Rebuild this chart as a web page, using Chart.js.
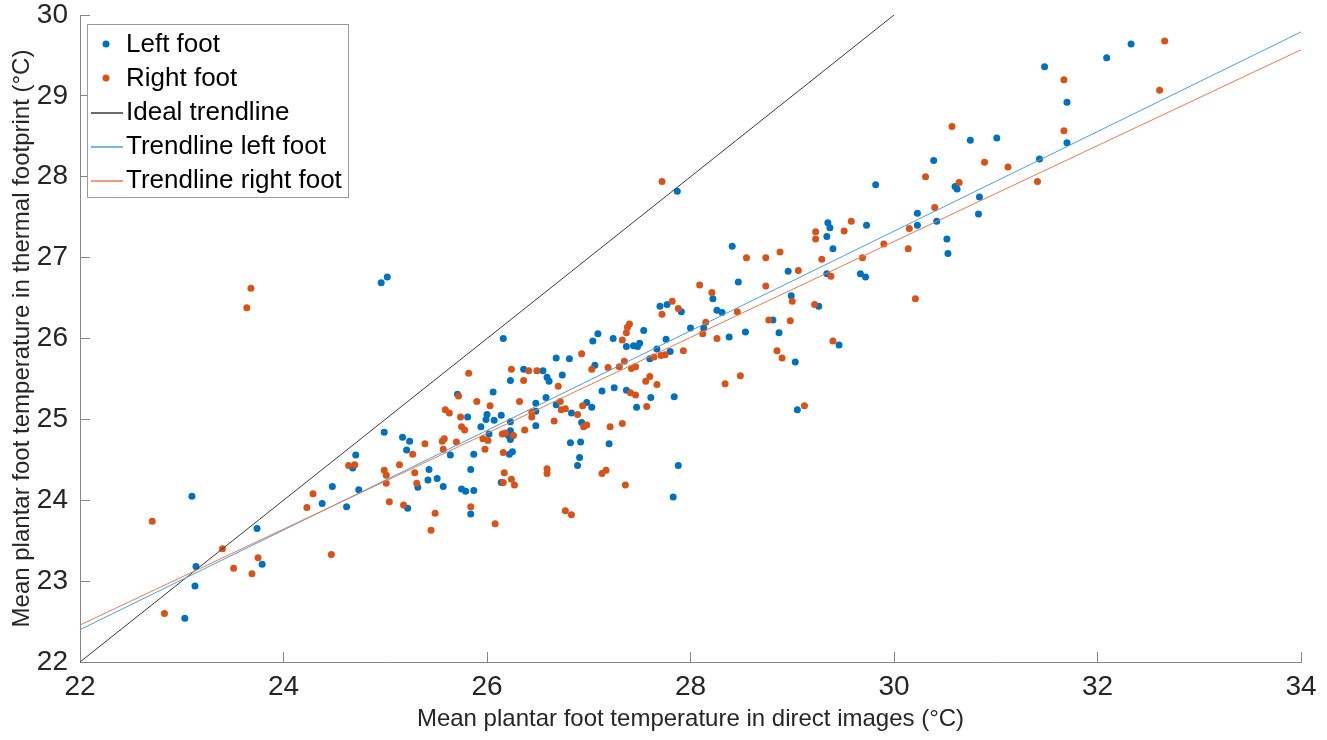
<!DOCTYPE html>
<html>
<head>
<meta charset="utf-8">
<title>Plantar foot temperature</title>
<script src="https://cdn.jsdelivr.net/npm/chart.js@4/dist/chart.umd.min.js"></script>
<style>
    html, body { margin: 0; padding: 0; background: #fff; }
    #wrap { width: 1327px; height: 740px; position: relative; }
</style>
</head>
<body>
<div id="wrap"><canvas id="tempChart"></canvas></div>
<script>
// mean temperature per foot: direct image (x) vs thermal footprint (y), °C
const leftX = [
    23.03, 23.10, 23.13, 23.14, 23.74, 23.79, 24.38, 24.48, 24.62, 24.68,
    24.71, 24.74, 24.96, 25.02, 24.99, 25.17, 25.24, 25.21, 25.22, 25.32,
    25.42, 25.43, 25.51, 25.57, 25.64, 25.71, 25.75, 25.79, 25.81, 25.84,
    25.84, 25.87, 25.87, 25.94, 25.99, 26.00, 26.02, 26.06, 26.07, 26.14,
    26.14, 26.16, 26.23, 26.23, 26.21, 26.23, 26.25, 26.22, 26.23, 26.36,
    26.55, 26.59, 26.61, 26.74, 26.68, 26.81, 26.58, 26.48, 26.48, 26.48,
    26.68, 26.83, 26.93, 26.98, 27.03, 26.82, 26.92, 26.91, 26.89, 27.04,
    27.09, 27.24, 27.37, 27.44, 27.48, 27.50, 27.54, 27.13, 27.25, 27.37,
    27.20, 27.06, 27.47, 27.61, 27.60, 27.67, 27.76, 27.80, 27.70, 27.77,
    27.84, 27.88, 27.83, 27.87, 27.91, 28.00, 28.13, 28.22, 28.26, 28.31,
    28.41, 28.47, 28.38, 28.54, 28.81, 28.87, 28.96, 28.99, 29.03, 29.05,
    29.26, 29.35, 29.37, 29.34, 29.40, 29.34, 29.46, 29.73, 29.67, 29.72,
    29.82, 30.23, 30.23, 30.39, 30.42, 30.52, 30.53, 30.60, 30.62, 30.84,
    30.83, 31.48, 31.70, 31.70, 31.43, 32.09, 32.33, 30.75, 31.01
];
const leftY = [
    22.54, 24.05, 22.94, 23.18, 23.65, 23.21, 23.96, 24.17, 23.92, 24.40,
    24.56, 24.13, 26.69, 26.76, 24.84, 24.78, 24.73, 24.62, 23.90, 24.16,
    24.25, 24.38, 24.27, 24.17, 24.56, 25.31, 24.14, 24.11, 25.03, 24.38,
    23.83, 24.57, 24.12, 24.91, 25.00, 25.06, 24.82, 25.34, 24.99, 25.05,
    24.22, 26.00, 24.97, 24.86, 24.80, 24.75, 24.60, 24.57, 25.48, 25.62,
    25.60, 25.52, 25.47, 25.55, 25.76, 25.75, 25.27, 25.20, 25.10, 24.92,
    25.18, 25.08, 24.96, 25.21, 25.15, 24.71, 24.72, 24.53, 24.43, 25.97,
    26.06, 26.00, 25.90, 25.91, 25.90, 25.94, 26.10, 25.35, 25.39, 25.36,
    24.70, 25.67, 25.15, 25.27, 25.75, 25.87, 25.99, 25.84, 26.40, 26.42,
    25.28, 24.43, 24.04, 27.82, 26.33, 26.13, 26.13, 26.49, 26.35, 26.32,
    27.14, 26.70, 26.02, 26.08, 26.23, 26.07, 26.83, 26.53, 25.71, 25.12,
    26.40, 27.43, 27.37, 27.26, 27.11, 26.80, 25.92, 27.40, 26.80, 26.76,
    27.90, 27.55, 27.40, 28.20, 27.45, 27.23, 27.05, 27.88, 27.85, 27.75,
    27.54, 29.36, 28.92, 28.42, 28.22, 29.47, 29.64, 28.45, 28.48
];
const rightX = [
    22.71, 22.83, 23.40, 23.51, 23.75, 23.69, 23.64, 23.68, 24.23, 24.29,
    24.47, 24.64, 24.70, 24.99, 25.01, 25.01, 25.04, 25.14, 25.18, 25.27,
    25.29, 25.31, 25.39, 25.49, 25.45, 25.56, 25.58, 25.57, 25.59, 25.63,
    25.70, 25.72, 25.74, 25.75, 25.78, 25.82, 25.84, 25.90, 25.96, 25.98,
    26.01, 26.03, 26.08, 26.15, 26.18, 26.16, 26.17, 26.16, 26.24, 26.27,
    26.26, 26.24, 26.36, 26.41, 26.49, 26.32, 26.37, 26.44, 26.44, 26.70,
    26.72, 26.73, 26.77, 26.66, 26.59, 26.59, 26.77, 26.83, 26.89, 26.94,
    26.95, 26.98, 26.93, 27.03, 27.19, 27.21, 27.33, 27.13, 27.17, 27.36,
    27.30, 27.33, 27.35, 27.37, 27.38, 27.40, 27.42, 27.46, 27.41, 27.46,
    27.56, 27.60, 27.57, 27.67, 27.64, 27.71, 27.75, 27.72, 27.82, 27.88,
    27.72, 27.93, 28.09, 28.21, 28.15, 28.12, 28.26, 28.46, 28.34, 28.49,
    28.55, 28.74, 28.88, 28.74, 28.77, 28.98, 28.85, 28.90, 29.00, 29.06,
    29.22, 29.12, 29.23, 29.23, 29.29, 29.38, 29.40, 29.51, 29.58, 29.69,
    29.90, 30.14, 30.15, 30.21, 30.31, 30.40, 30.64, 30.57, 31.67, 31.67,
    31.41, 30.89, 31.12, 32.66, 32.61
];
const rightY = [
    23.74, 22.60, 23.40, 23.16, 23.29, 23.09, 26.38, 26.62, 23.91, 24.08,
    23.33, 24.43, 24.44, 24.37, 24.31, 24.21, 23.98, 24.44, 23.94, 24.57,
    24.34, 24.21, 24.70, 23.84, 23.63, 24.73, 24.76, 24.63, 25.12, 25.08,
    24.72, 25.29, 25.03, 24.91, 24.87, 25.57, 23.92, 25.22, 24.76, 24.63,
    24.74, 25.17, 23.71, 24.82, 24.83, 24.59, 24.34, 24.22, 24.26, 24.19,
    24.80, 25.62, 25.48, 25.60, 25.60, 25.22, 24.87, 25.09, 25.03, 25.41,
    25.22, 25.12, 25.13, 24.98, 24.39, 24.33, 23.87, 23.82, 25.06, 25.17,
    24.91, 24.93, 25.81, 25.62, 25.64, 24.91, 24.95, 24.33, 24.37, 24.19,
    25.65, 25.98, 25.72, 26.07, 26.14, 26.18, 25.63, 25.65, 25.33, 25.30,
    25.47, 25.53, 25.16, 25.43, 25.77, 25.79, 25.80, 26.30, 26.46, 26.37,
    27.94, 25.85, 26.66, 26.57, 26.20, 26.06, 26.00, 26.33, 25.44, 25.54,
    27.00, 27.00, 27.07, 26.65, 26.23, 26.22, 25.85, 25.76, 26.46, 26.84,
    26.42, 25.17, 27.32, 27.23, 26.98, 26.77, 25.97, 27.33, 27.45, 27.00,
    27.17, 27.11, 27.36, 26.49, 28.00, 27.62, 27.93, 28.62, 29.20, 28.57,
    27.94, 28.18, 28.12, 29.68, 29.07
];

// reference line y = x and the two fitted lines, given by their end points
const idealX = [22, 30];
const idealY = [22, 30];
const trendX = [22, 34];
const trendLeftY = [22.40, 29.79];
const trendRightY = [22.457, 29.57];

const BLUE = '#0072bd';
const ORANGE = '#d95319';
const TEXT = '#262626';
const AXIS = '#868686';

const toPoints = (xs, ys) => xs.map((x, i) => ({ x: x, y: ys[i] }));

// MATLAB-like legend box in the top left corner of the axes
const boxLegend = {
    id: 'boxLegend',
    afterDraw(chart) {
        const ctx = chart.ctx;
        const x0 = 87, y0 = 24, w = 261, h = 173;
        ctx.save();
        ctx.fillStyle = '#fff';
        ctx.fillRect(x0, y0, w, h);
        ctx.strokeStyle = '#9a9a9a';
        ctx.lineWidth = 1;
        ctx.strokeRect(x0 + 0.5, y0 + 0.5, w, h);
        ctx.font = '26px "Liberation Sans", Arial, sans-serif';
        ctx.textBaseline = 'middle';
        chart.data.datasets.forEach((ds, i) => {
            const cy = 45 + i * 34;
            if (ds.showLine) {
                ctx.strokeStyle = ds.borderColor;
                ctx.lineWidth = 1.5;
                ctx.beginPath();
                ctx.moveTo(91, cy);
                ctx.lineTo(123, cy);
                ctx.stroke();
            } else {
                ctx.fillStyle = ds.backgroundColor;
                ctx.beginPath();
                ctx.arc(106, cy - 1, 3.5, 0, Math.PI * 2);
                ctx.fill();
            }
            ctx.fillStyle = '#000';
            ctx.fillText(ds.label, 126, cy);
        });
        ctx.restore();
    }
};

const ctx = document.getElementById('tempChart');

new Chart(ctx, {
    type: 'scatter',
    data: {
        datasets: [{
            label: 'Left foot',
            data: toPoints(leftX, leftY),
            backgroundColor: BLUE,
            borderWidth: 0,
            pointRadius: 3.5,
            order: 5
        }, {
            label: 'Right foot',
            data: toPoints(rightX, rightY),
            backgroundColor: ORANGE,
            borderWidth: 0,
            pointRadius: 3.5,
            order: 4
        }, {
            label: 'Ideal trendline',
            data: toPoints(idealX, idealY),
            showLine: true,
            borderColor: '#3a3a3a',
            borderWidth: 1,
            pointRadius: 0,
            order: 3
        }, {
            label: 'Trendline left foot',
            data: toPoints(trendX, trendLeftY),
            showLine: true,
            borderColor: '#4da0dc',
            borderWidth: 1,
            pointRadius: 0,
            order: 2
        }, {
            label: 'Trendline right foot',
            data: toPoints(trendX, trendRightY),
            showLine: true,
            borderColor: '#ea7a50',
            borderWidth: 1,
            pointRadius: 0,
            order: 1
        }]
    },
    options: {
        responsive: true,
        maintainAspectRatio: false,
        animation: false,
        layout: {
            padding: { top: 15, right: 26, left: 0, bottom: 0 }
        },
        plugins: {
            legend: { display: false },
            tooltip: { enabled: false }
        },
        scales: {
            x: {
                type: 'linear',
                min: 22,
                max: 34,
                afterFit: (s) => {
                    s.height = 78;
                    s.paddingLeft = 0;
                    s.paddingRight = 0;
                },
                ticks: {
                    stepSize: 2,
                    color: TEXT,
                    padding: 18,
                    maxRotation: 0,
                    font: { family: '"Liberation Sans", Arial, sans-serif', size: 28 }
                },
                grid: {
                    drawOnChartArea: false,
                    drawTicks: true,
                    tickLength: -10,
                    color: AXIS
                },
                border: { display: true, color: AXIS, width: 1 },
                title: {
                    display: true,
                    text: 'Mean plantar foot temperature in direct images (°C)',
                    color: TEXT,
                    padding: { top: 0, bottom: 6 },
                    font: { family: '"Liberation Sans", Arial, sans-serif', size: 24 }
                }
            },
            y: {
                type: 'linear',
                min: 22,
                max: 30,
                afterFit: (s) => {
                    s.width = 80;
                    s.paddingTop = 0;
                    s.paddingBottom = 0;
                },
                ticks: {
                    stepSize: 1,
                    color: TEXT,
                    padding: 22,
                    font: { family: '"Liberation Sans", Arial, sans-serif', size: 28 }
                },
                grid: {
                    drawOnChartArea: false,
                    drawTicks: true,
                    tickLength: -10,
                    color: AXIS
                },
                border: { display: true, color: AXIS, width: 1 },
                title: {
                    display: true,
                    text: 'Mean plantar foot temperature in thermal footprint (°C)',
                    color: TEXT,
                    padding: { top: 8, bottom: 0 },
                    font: { family: '"Liberation Sans", Arial, sans-serif', size: 24 }
                }
            }
        }
    },
    plugins: [boxLegend]
});
</script>
</body>
</html>
